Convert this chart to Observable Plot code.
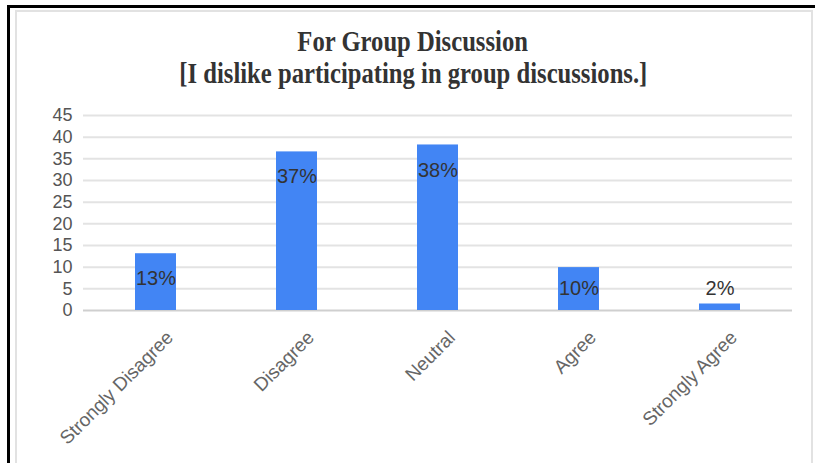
<!DOCTYPE html>
<html>
<head>
<meta charset="utf-8">
<script src="https://cdn.jsdelivr.net/npm/d3@7"></script>
<script src="https://cdn.jsdelivr.net/npm/@observablehq/plot@0.6"></script>
<style>
  body { margin: 0; background: #fff; }
  #wrap { position: relative; width: 815px; height: 463px; overflow: hidden; background: #fff; }
  #blk { position: absolute; left: 7px; top: 5px; width: 830px; height: 480px; border-top: 3px solid #000; border-left: 3px solid #000; }
  #gry { position: absolute; left: 15px; top: 10px; width: 794px; height: 480px; border: 2px solid #e2e2e2; }
  #title { position: absolute; left: 0; top: 25px; width: 826px; text-align: center;
           font-family: "Liberation Serif", "Times New Roman", serif; font-weight: bold; font-size: 29px;
           line-height: 32px; color: #333; }
  #title span { display: inline-block; transform: scaleX(0.85); transform-origin: center; white-space: nowrap; }
  #chart { position: absolute; left: 0; top: 95px; }
</style>
</head>
<body>
<div id="wrap">
  <div id="blk"></div>
  <div id="gry"></div>
  <div id="title"><span>For Group Discussion</span><br><span>[I dislike participating in group discussions.]</span></div>
  <div id="chart"></div>
</div>
<script>
const categories = ["Strongly Disagree", "Disagree", "Neutral", "Agree", "Strongly Agree"];
const values = [13.1, 36.6, 38.2, 9.9, 1.5];
const labels = ["13%", "37%", "38%", "10%", "2%"];
const yTicks = [0, 5, 10, 15, 20, 25, 30, 35, 40, 45];

const data = categories.map((c, i) => ({category: c, value: values[i], label: labels[i],
  labelY: Math.max(values[i] - 5.8, 5)}));

const chart = Plot.plot({
  width: 815,
  height: 368,
  marginTop: 20,
  marginBottom: 153,
  marginLeft: 83,
  marginRight: 23,
  style: {fontFamily: "Liberation Sans, Arial, sans-serif", background: "transparent", overflow: "visible"},
  x: {domain: categories, paddingInner: 0.71, paddingOuter: 0.355, label: null},
  y: {domain: [0, 45], label: null},
  marks: [
    Plot.ruleY(yTicks.filter(d => d > 0), {stroke: "#e3e3e3", strokeWidth: 2}),
    Plot.ruleY([0], {stroke: "#cfcfcf", strokeWidth: 2}),
    Plot.barY(data, {x: "category", y: "value", fill: "#4285f4"}),
    Plot.text(data, {x: "category", y: "labelY", text: "label", fill: "#333", fontSize: 20}),
    Plot.axisY({ticks: yTicks, tickSize: 0, tickPadding: 11, fontSize: 18, color: "#555", label: null}),
    Plot.axisX({tickSize: 0, tickRotate: -45, tickPadding: 8, dx: 14, dy: 16, fontSize: 19, color: "#666", label: null})
  ]
});
document.getElementById("chart").appendChild(chart);
</script>
</body>
</html>
